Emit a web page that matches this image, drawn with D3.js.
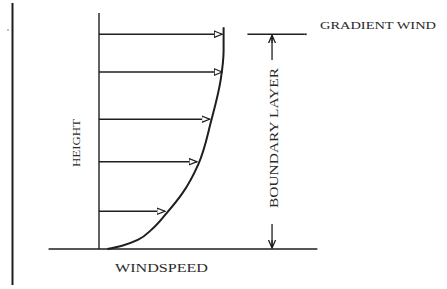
<!DOCTYPE html>
<html lang="en">
<head>
<meta charset="utf-8">
<title>Wind profile</title>
<script src="https://d3js.org/d3.v7.min.js"></script>
<style>
  body { margin: 0; background: #fff; }
  svg text { font-family: "Liberation Serif", "DejaVu Serif", serif; fill: #2a2a2a; }
</style>
</head>
<body>
<svg id="chart" width="447" height="289"></svg>
<script>
// wind arrows: height above ground and windspeed (arbitrary units 0..100)
let arrowHeights = [16, 37, 55, 75, 91];
let arrowSpeeds = [47, 70, 79, 88, 88];

// wind profile curve, from the top down
let profileHeights = [94, 84, 72, 54, 36, 24, 15, 8.5, 4, 1.5, 0];
let profileSpeeds = [89, 89, 87, 80, 71, 60, 48, 38, 28, 17, 6];

// boundary layer top (gradient wind level)
let gradientHeight = 91;

let labels = {
    x: "WINDSPEED",
    y: "HEIGHT",
    layer: "BOUNDARY LAYER",
    gradient: "GRADIENT WIND"
};

let svg = d3.select('#chart');
let ink = '#1e1e1e';

let x = d3.scaleLinear().domain([0, 100]).range([99, 239]);
let y = d3.scaleLinear().domain([0, 100]).range([249, 13]);

// left border
svg.append('line')
    .attr('x1', 12.5).attr('x2', 12.5)
    .attr('y1', 3).attr('y2', 285)
    .attr('stroke', ink).attr('stroke-width', 2);
svg.append('circle').attr('cx', 8).attr('cy', 30).attr('r', 0.7).attr('fill', '#555');

let defs = svg.append('defs');
defs.append('marker')
    .attr('id', 'head')
    .attr('viewBox', '0 -4 9 8')
    .attr('refX', 8).attr('refY', 0)
    .attr('markerWidth', 9).attr('markerHeight', 8)
    .attr('markerUnits', 'userSpaceOnUse')
    .attr('orient', 'auto')
    .append('path')
    .attr('d', 'M0,-3.2L8,0L0,3.2Z')
    .attr('fill', '#fff')
    .attr('stroke', ink)
    .attr('stroke-width', 1.2);

// ground and height axis
svg.append('line')
    .attr('x1', x(-36)).attr('x2', x(156))
    .attr('y1', y(0)).attr('y2', y(0))
    .attr('stroke', ink).attr('stroke-width', 1.4);
svg.append('line')
    .attr('x1', x(0)).attr('x2', x(0))
    .attr('y1', y(0)).attr('y2', y(100))
    .attr('stroke', ink).attr('stroke-width', 1.4);

// arrows
let arrows = arrowHeights.map((h, i) => ({h: h, s: arrowSpeeds[i]}));
svg.append('g').selectAll('line')
    .data(arrows)
    .join('line')
    .attr('x1', x(0))
    .attr('x2', d => x(d.s))
    .attr('y1', d => y(d.h))
    .attr('y2', d => y(d.h))
    .attr('stroke', ink)
    .attr('stroke-width', 1.4)
    .attr('marker-end', 'url(#head)');

// profile curve (monotone in y so it stays smooth)
let profile = profileHeights.map((h, i) => ({h: h, s: profileSpeeds[i]}));
svg.append('path')
    .datum(profile)
    .attr('fill', 'none')
    .attr('stroke', ink)
    .attr('stroke-width', 2)
    .attr('d', d3.line()
        .x(d => x(d.s))
        .y(d => y(d.h))
        .curve(d3.curveMonotoneY));

// boundary layer marker
let bx = x(123.6);
svg.append('line')
    .attr('x1', x(106)).attr('x2', x(147))
    .attr('y1', y(gradientHeight)).attr('y2', y(gradientHeight))
    .attr('stroke', ink).attr('stroke-width', 1.4);
svg.append('circle').attr('cx', x(147) + 1).attr('cy', y(gradientHeight)).attr('r', 1).attr('fill', ink);

defs.append('marker')
    .attr('id', 'vhead')
    .attr('viewBox', '0 -4 9 8')
    .attr('refX', 8).attr('refY', 0)
    .attr('markerWidth', 9).attr('markerHeight', 8)
    .attr('markerUnits', 'userSpaceOnUse')
    .attr('orient', 'auto')
    .append('path')
    .attr('d', 'M0,-3.5L8,0L0,3.5M8,0L0,0')
    .attr('fill', 'none')
    .attr('stroke', ink)
    .attr('stroke-width', 1.3);

svg.append('line')
    .attr('x1', bx).attr('x2', bx)
    .attr('y1', 60).attr('y2', y(gradientHeight) + 1)
    .attr('stroke', ink).attr('stroke-width', 1.3)
    .attr('marker-end', 'url(#vhead)');
svg.append('line')
    .attr('x1', bx).attr('x2', bx)
    .attr('y1', 224).attr('y2', y(0) - 1)
    .attr('stroke', ink).attr('stroke-width', 1.3)
    .attr('marker-end', 'url(#vhead)');

// labels
svg.append('text')
    .attr('x', 115).attr('y', 272)
    .attr('font-size', 13)
    .attr('textLength', 93).attr('lengthAdjust', 'spacingAndGlyphs')
    .text(labels.x);

svg.append('text')
    .attr('transform', 'translate(80,167) rotate(-90)')
    .attr('font-size', 10)
    .attr('textLength', 48).attr('lengthAdjust', 'spacingAndGlyphs')
    .text(labels.y);

svg.append('text')
    .attr('transform', `translate(${bx + 6},208) rotate(-90)`)
    .attr('font-size', 13)
    .attr('textLength', 140).attr('lengthAdjust', 'spacingAndGlyphs')
    .text(labels.layer);

svg.append('text')
    .attr('x', 320).attr('y', 29)
    .attr('font-size', 11)
    .attr('textLength', 116).attr('lengthAdjust', 'spacingAndGlyphs')
    .text(labels.gradient);
</script>
</body>
</html>
